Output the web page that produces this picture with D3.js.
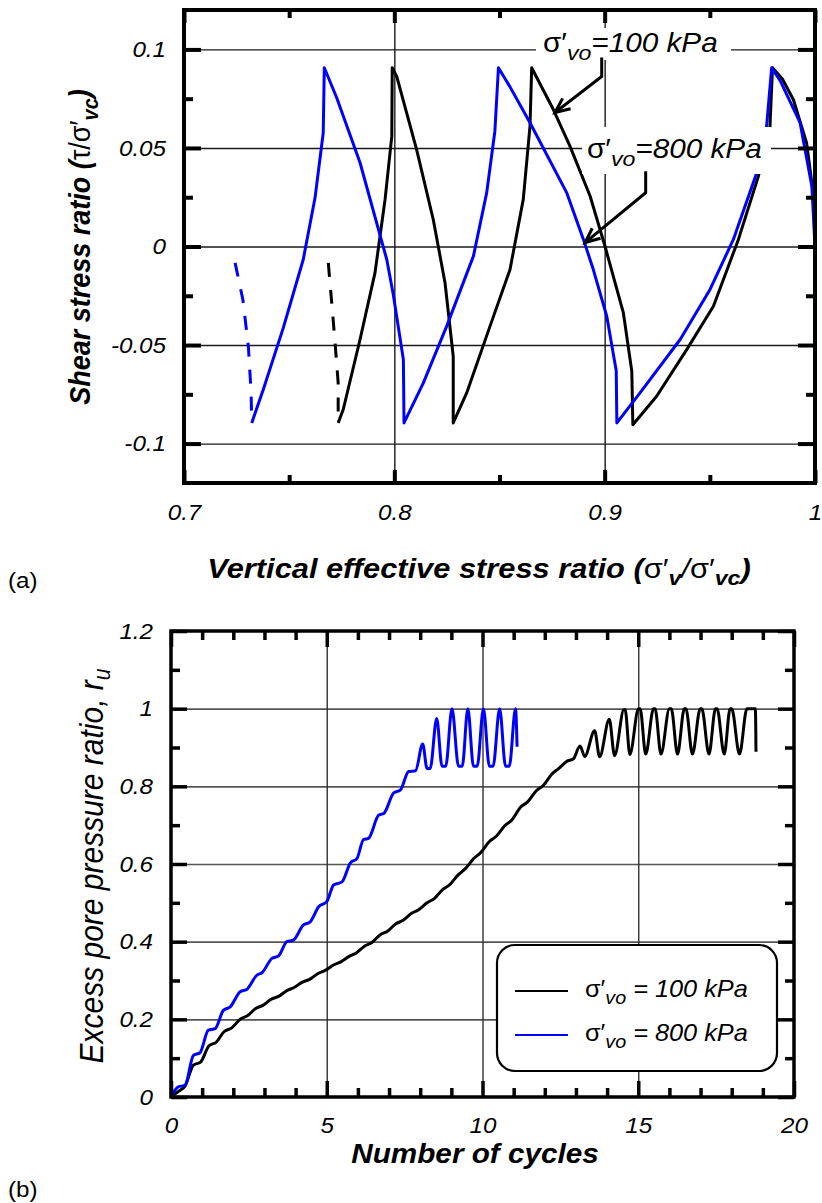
<!DOCTYPE html>
<html>
<head>
<meta charset="utf-8">
<script src="https://cdn.jsdelivr.net/npm/d3@7"></script>
<style>
  body { margin: 0; background: #fff; }
  svg text { font-family: "Liberation Sans", Arial, sans-serif; fill: #000; }
</style>
</head>
<body>
<svg width="822" height="1203"></svg>
<script>
// ---------- panel (a): stress paths, [sigma'v/sigma'vc, tau/sigma'vc] ----------
const blackDash = [[0.7686,-0.0083],[0.7701,-0.0269],[0.7717,-0.0472],[0.7733,-0.0692],[0.7733,-0.0895]];
const blackPath = [[0.7733,-0.0895],[0.7757,-0.0827],[0.7837,-0.0472],[0.7908,-0.0134],[0.7956,0.0239],
  [0.7988,0.056],[0.799,0.0907],[0.8011,0.0864],[0.8106,0.0492],[0.8185,0.0137],[0.8241,-0.0184],
  [0.828,-0.0557],[0.828,-0.0895],[0.8344,-0.0743],[0.8455,-0.0404],[0.855,-0.0117],[0.8613,0.0239],
  [0.8645,0.0611],[0.8653,0.0907],[0.8756,0.0695],[0.8835,0.0509],[0.8931,0.0255],[0.9002,0.0],
  [0.9089,-0.0337],[0.9129,-0.0633],[0.9134,-0.0904],[0.9247,-0.076],[0.939,-0.0523],[0.9517,-0.0303],
  [0.9636,0.0036],[0.9731,0.0357],[0.9786,0.0611],[0.9798,0.0907],[0.9845,0.085],[0.9897,0.0746],
  [0.996,0.0526],[0.9995,0.0239],[1.0,0.0]];
const blueDash = [[0.7243,-0.0083],[0.728,-0.027],[0.7306,-0.0506],[0.7319,-0.074],[0.7322,-0.0895]];
const bluePath = [[0.7322,-0.0895],[0.7377,-0.0726],[0.7472,-0.0413],[0.7567,-0.0066],[0.7623,0.0247],
  [0.7662,0.0577],[0.7667,0.0907],[0.7726,0.0755],[0.7837,0.0425],[0.7964,-0.0066],[0.7995,-0.0244],
  [0.8043,-0.0574],[0.8046,-0.0895],[0.8138,-0.0692],[0.8249,-0.0404],[0.8376,-0.0049],[0.8439,0.0272],
  [0.8478,0.0585],[0.8495,0.0907],[0.855,0.081],[0.8645,0.0628],[0.882,0.0272],[0.8899,0.0036],
  [0.8946,-0.0117],[0.901,-0.0354],[0.9055,-0.063],[0.9058,-0.0895],[0.9168,-0.0743],[0.9359,-0.0472],
  [0.9501,-0.0218],[0.9612,0.0036],[0.9723,0.0374],[0.977,0.0611],[0.9794,0.0907],[0.9835,0.084],
  [0.9885,0.0728],[0.9929,0.0628],[0.9985,0.0306],[1.0,0.0]];

const aXTicks = [0.7, 0.8, 0.9, 1.0];
const aXLabels = ["0.7", "0.8", "0.9", "1"];
const aXMinor = [0.75, 0.85, 0.95];
const aXGrid = [0.8, 0.9];
const aYTicks = [-0.1, -0.05, 0, 0.05, 0.1];
const aYLabels = ["-0.1", "-0.05", "0", "0.05", "0.1"];
const aYMinor = [-0.075, -0.025, 0.025, 0.075];

// ---------- panel (b): excess pore pressure ratio vs cycles, [N, ru] ----------
const blackRu = [[0,0],[0.25,0.015],[0.45,0.028],[0.72,0.082],[0.95,0.09],[1.22,0.132],[1.45,0.141],
  [1.7,0.168],[1.95,0.178],[2.22,0.2],[2.45,0.209],[2.72,0.228],[2.95,0.236],[3.22,0.252],[3.45,0.259],
  [3.72,0.274],[3.95,0.282],[4.22,0.296],[4.45,0.303],[4.72,0.318],[4.95,0.326],[5.22,0.34],[5.45,0.348],
  [5.72,0.362],[5.95,0.371],[6.22,0.389],[6.45,0.398],[6.72,0.418],[6.95,0.427],[7.22,0.446],[7.45,0.455],
  [7.72,0.473],[7.95,0.482],[8.22,0.5],[8.45,0.511],[8.72,0.534],[8.95,0.547],[9.22,0.572],[9.45,0.588],
  [9.72,0.614],[9.95,0.63],[10.22,0.658],[10.45,0.672],[10.72,0.699],[10.95,0.714],[11.22,0.746],
  [11.45,0.76],[11.72,0.788],[11.95,0.802],[12.22,0.831],[12.45,0.846],[12.7,0.864],[12.92,0.871],
  [13.13,0.904],[13.28,0.877],[13.6,0.943],[13.76,0.876],[14.07,0.973],[14.24,0.879],[14.54,0.997],
  [14.58,0.997],[14.73,0.882],[15.01,1.0],[15.06,1.0],[15.24,0.883],[15.49,1.0],[15.54,1.0],[15.73,0.883],
  [16.0,1.0],[16.06,1.0],[16.26,0.883],[16.48,1.0],[16.53,1.0],[16.74,0.883],[16.99,1.0],[17.04,1.0],
  [17.27,0.883],[17.48,1.0],[17.53,1.0],[17.76,0.883],[17.95,1.0],[18.0,1.0],[18.25,0.883],[18.49,1.0],
  [18.76,1.0],[18.78,0.889]];
const blueRu = [[0,0],[0.23,0.026],[0.45,0.03],[0.72,0.107],[0.93,0.114],[1.2,0.172],[1.42,0.176],
  [1.68,0.223],[1.9,0.232],[2.22,0.271],[2.43,0.277],[2.76,0.314],[2.92,0.32],[3.24,0.357],[3.45,0.363],
  [3.72,0.4],[3.93,0.404],[4.25,0.443],[4.47,0.451],[4.74,0.49],[5.0,0.503],[5.22,0.546],[5.49,0.554],
  [5.76,0.603],[5.97,0.614],[6.18,0.663],[6.34,0.666],[6.67,0.726],[6.83,0.73],[7.15,0.783],[7.36,0.79],
  [7.63,0.838],[7.85,0.84],[8.08,0.909],[8.22,0.846],[8.32,0.846],[8.53,0.975],[8.7,0.852],[8.82,0.852],
  [9.02,1.0],[9.23,0.852],[9.35,0.852],[9.53,1.0],[9.71,0.852],[9.83,0.852],[10.03,1.0],[10.22,0.852],
  [10.34,0.852],[10.55,1.0],[10.74,0.852],[10.86,0.852],[11.06,1.0],[11.11,0.902]];

const bXTicks = [0, 5, 10, 15, 20];
const bXMinor = [1,2,3,4,6,7,8,9,11,12,13,14,16,17,18,19];
const bXGrid = [5, 10, 15];
const bYTicks = [0, 0.2, 0.4, 0.6, 0.8, 1.0, 1.2];
const bYLabels = ["0", "0.2", "0.4", "0.6", "0.8", "1", "1.2"];
const bYMinor = [0.1, 0.3, 0.5, 0.7, 0.9, 1.1];
const bYGrid = [0.2, 0.4, 0.6, 0.8, 1.0];

const stresses = [100, 800];       // sigma'vo, kPa
const colors = ["#000000", "#0000ff"];

// ---------- drawing ----------
const svg = d3.select("svg");
const SX = 1.1;   // the source glyphs are a little wide

function styleAxis(sel) {
  sel.attr("font-family", null).attr("font-size", null);
  sel.select(".domain").remove();
}

function tickMarks(parent, axisFn, scale, values, size, pos, width) {
  parent.append("g").attr("transform", pos)
    .call(axisFn(scale).tickValues(values).tickSize(size).tickFormat(""))
    .call(styleAxis)
    .selectAll("line").attr("stroke", "#000").attr("stroke-width", width);
}

function gridLines(parent, axisFn, scale, values, size, pos, color, width) {
  parent.append("g").attr("transform", pos)
    .call(axisFn(scale).tickValues(values).tickSize(size).tickFormat(""))
    .call(styleAxis)
    .selectAll("line").attr("stroke", color).attr("stroke-width", width);
}

function tickLabels(parent, axisFn, scale, values, texts, pos, pad) {
  const g = parent.append("g").attr("transform", pos)
    .call(axisFn(scale).tickValues(values).tickSize(0).tickPadding(pad)
      .tickFormat((d, i) => texts[i]))
    .call(styleAxis);
  g.selectAll("text")
    .attr("font-size", 22).attr("font-style", "italic")
    .attr("transform", `scale(${SX},1)`);
}

function sigmaText(parent, x, y, size, value, spaced, anchor) {
  const t = parent.append("text")
    .attr("transform", `translate(${x},${y}) scale(${SX},1)`)
    .attr("text-anchor", anchor || "start")
    .attr("font-size", size).attr("font-style", "italic");
  t.append("tspan").attr("font-style", "normal").text("σ′");
  t.append("tspan").attr("font-size", size * 0.78).attr("dy", size * 0.3).text("vo");
  t.append("tspan").attr("dy", -size * 0.3).text(spaced ? ` = ${value} kPa` : `=${value} kPa`);
  return t;
}

// ===== panel (a) =====
const A = { left: 184, right: 815, top: 10, bottom: 483 };
const xA = d3.scaleLinear().domain([0.7, 1.0]).range([A.left, A.right]);
const yA = d3.scaleLinear().domain([-0.12, 0.12]).range([A.bottom, A.top]);
const gA = svg.append("g");

gridLines(gA, d3.axisRight, yA, aYTicks, A.right - A.left, `translate(${A.left},0)`, "#1a1a1a", 1.4);
gridLines(gA, d3.axisBottom, xA, aXGrid, A.bottom - A.top, `translate(0,${A.top})`, "#1a1a1a", 1.4);

const lineA = d3.line().x(d => xA(d[0])).y(d => yA(d[1]));
[[blackPath, blackDash, colors[0]], [bluePath, blueDash, colors[1]]].forEach(([p, dsh, c]) => {
  gA.append("path").attr("d", lineA(p)).attr("fill", "none").attr("stroke", c)
    .attr("stroke-width", 3).attr("stroke-linejoin", "round");
  gA.append("path").attr("d", lineA(dsh)).attr("fill", "none").attr("stroke", c)
    .attr("stroke-width", 3).attr("stroke-dasharray", "14,13");
});

// annotations with white boxes
gA.append("rect").attr("x", 536).attr("y", 28).attr("width", 195).attr("height", 32).attr("fill", "#fff");
gA.append("rect").attr("x", 582).attr("y", 127).attr("width", 189).attr("height", 47).attr("fill", "#fff");
sigmaText(gA, 543, 52, 27, stresses[0], false);
sigmaText(gA, 587, 158, 27, stresses[1], false);

function arrow(stemX, stemY0, stemY1, tip) {
  const sx = xA(stemX), y0 = yA(stemY0), y1 = yA(stemY1);
  const tx = xA(tip[0]), ty = yA(tip[1]);
  gA.append("path").attr("d", `M${sx},${y0}L${sx},${y1}L${tx},${ty}`)
    .attr("fill", "none").attr("stroke", "#000").attr("stroke-width", 3).attr("stroke-linejoin", "miter");
  const ang = Math.atan2(ty - y1, tx - sx), L = 16, w = 0.42;
  const p1 = [tx - L * Math.cos(ang - w), ty - L * Math.sin(ang - w)];
  const p2 = [tx - L * Math.cos(ang + w), ty - L * Math.sin(ang + w)];
  gA.append("path").attr("d", `M${p1}L${tx},${ty}L${p2}`)
    .attr("fill", "none").attr("stroke", "#000").attr("stroke-width", 3);
}
arrow(0.8986, 0.0959, 0.0863, [0.8764, 0.068]);
arrow(0.9195, 0.0382, 0.0273, [0.8907, 0.002]);

// ticks (inside) and frame
tickMarks(gA, d3.axisRight, yA, aYTicks, 17, `translate(${A.left},0)`, 4);
tickMarks(gA, d3.axisRight, yA, aYMinor, 9, `translate(${A.left},0)`, 4);
tickMarks(gA, d3.axisLeft, yA, aYTicks, 17, `translate(${A.right},0)`, 4);
tickMarks(gA, d3.axisLeft, yA, aYMinor, 9, `translate(${A.right},0)`, 4);
tickMarks(gA, d3.axisBottom, xA, aXTicks, 13, `translate(0,${A.top})`, 4);
tickMarks(gA, d3.axisBottom, xA, aXMinor, 8, `translate(0,${A.top})`, 4);
tickMarks(gA, d3.axisTop, xA, aXTicks, 13, `translate(0,${A.bottom})`, 4);
tickMarks(gA, d3.axisTop, xA, aXMinor, 8, `translate(0,${A.bottom})`, 4);
gA.append("rect").attr("x", A.left).attr("y", A.top)
  .attr("width", A.right - A.left).attr("height", A.bottom - A.top)
  .attr("fill", "none").attr("stroke", "#000").attr("stroke-width", 4);

tickLabels(gA, d3.axisLeft, yA, aYTicks, aYLabels, `translate(${A.left},0)`, 18 / SX);
tickLabels(gA, d3.axisBottom, xA, aXTicks, aXLabels, `translate(0,${A.bottom})`, 21);

// axis titles (a)
const xtA = gA.append("text")
  .attr("transform", `translate(479,578) scale(${SX},1)`)
  .attr("text-anchor", "middle").attr("font-size", 28)
  .attr("font-weight", "bold").attr("font-style", "italic");
xtA.append("tspan").text("Vertical effective stress ratio (");
xtA.append("tspan").attr("font-style", "normal").attr("font-weight", "normal").text("σ′");
xtA.append("tspan").attr("font-size", 21).attr("dy", 7).text("v");
xtA.append("tspan").attr("dy", -7).attr("font-weight", "normal").text("/");
xtA.append("tspan").attr("font-style", "normal").attr("font-weight", "normal").text("σ′");
xtA.append("tspan").attr("font-size", 21).attr("dy", 7).text("vc");
xtA.append("tspan").attr("dy", -7).text(")");

const ytA = gA.append("text")
  .attr("transform", `translate(90,247) rotate(-90) scale(1,${SX})`)
  .attr("text-anchor", "middle").attr("font-size", 27)
  .attr("font-weight", "bold").attr("font-style", "italic");
ytA.append("tspan").text("Shear stress ratio (");
ytA.append("tspan").attr("font-style", "normal").attr("font-weight", "normal").text("τ/σ′");
ytA.append("tspan").attr("font-size", 20).attr("dy", 7).text("vc");
ytA.append("tspan").attr("dy", -7).text(")");

svg.append("text").attr("transform", `translate(8,588) scale(${SX},1)`)
  .attr("font-size", 22).text("(a)");

// ===== panel (b) =====
const B = { left: 171, right: 794, top: 631, bottom: 1097 };
const xB = d3.scaleLinear().domain([0, 20]).range([B.left, B.right]);
const yB = d3.scaleLinear().domain([0, 1.2]).range([B.bottom, B.top]);
const gB = svg.append("g");

gridLines(gB, d3.axisRight, yB, bYGrid, B.right - B.left, `translate(${B.left},0)`, "#555", 1.6);
gridLines(gB, d3.axisBottom, xB, bXGrid, B.bottom - B.top, `translate(0,${B.top})`, "#333", 1.4);

const lineB = d3.line().curve(d3.curveMonotoneX).x(d => xB(d[0])).y(d => yB(d[1]));
[[blackRu, colors[0]], [blueRu, colors[1]]].forEach(([p, c]) => {
  gB.append("path").attr("d", lineB(p)).attr("fill", "none").attr("stroke", c)
    .attr("stroke-width", 3).attr("stroke-linejoin", "round");
});

tickMarks(gB, d3.axisRight, yB, bYTicks, 16, `translate(${B.left},0)`, 3.5);
tickMarks(gB, d3.axisRight, yB, bYMinor, 9, `translate(${B.left},0)`, 3.5);
tickMarks(gB, d3.axisLeft, yB, bYTicks, 16, `translate(${B.right},0)`, 3.5);
tickMarks(gB, d3.axisLeft, yB, bYMinor, 9, `translate(${B.right},0)`, 3.5);
tickMarks(gB, d3.axisBottom, xB, bXTicks, 16, `translate(0,${B.top})`, 3.5);
tickMarks(gB, d3.axisBottom, xB, bXMinor, 9, `translate(0,${B.top})`, 3.5);
tickMarks(gB, d3.axisTop, xB, bXTicks, 16, `translate(0,${B.bottom})`, 3.5);
tickMarks(gB, d3.axisTop, xB, bXMinor, 9, `translate(0,${B.bottom})`, 3.5);
gB.append("rect").attr("x", B.left).attr("y", B.top)
  .attr("width", B.right - B.left).attr("height", B.bottom - B.top)
  .attr("fill", "none").attr("stroke", "#000").attr("stroke-width", 3.5);

tickLabels(gB, d3.axisLeft, yB, bYTicks, bYLabels, `translate(${B.left},0)`, 18 / SX);
tickLabels(gB, d3.axisBottom, xB, bXTicks, bXTicks.map(String), `translate(0,${B.bottom})`, 20);

// legend
const leg = gB.append("g");
leg.append("rect").attr("x", 497).attr("y", 945).attr("width", 280).attr("height", 126)
  .attr("rx", 18).attr("fill", "#fff").attr("stroke", "#000").attr("stroke-width", 2.2);
stresses.forEach((s, i) => {
  const y = 991 + i * 44;
  leg.append("line").attr("x1", 515).attr("x2", 568).attr("y1", y).attr("y2", y)
    .attr("stroke", colors[i]).attr("stroke-width", 2.2);
  sigmaText(leg, 585, y + 6, 23, s, true);
});

gB.append("text").attr("transform", `translate(475,1163) scale(${SX},1)`)
  .attr("text-anchor", "middle").attr("font-size", 27)
  .attr("font-weight", "bold").attr("font-style", "italic").text("Number of cycles");

const ytB = gB.append("text")
  .attr("transform", `translate(103,866) rotate(-90) scale(1,${SX})`)
  .attr("text-anchor", "middle").attr("font-size", 30).attr("font-style", "italic");
ytB.append("tspan").text("Excess pore pressure ratio, r");
ytB.append("tspan").attr("font-size", 21).attr("dy", 6).text("u");

svg.append("text").attr("transform", `translate(8,1197) scale(${SX},1)`)
  .attr("font-size", 22).text("(b)");
</script>
</body>
</html>
